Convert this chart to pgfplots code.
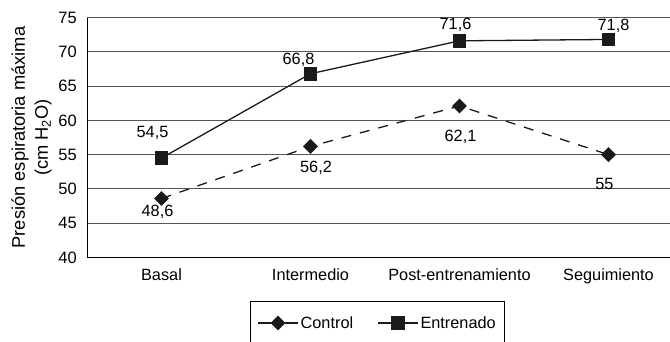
\documentclass[border=0pt]{standalone}
\usepackage{pgfplots}
\pgfplotsset{compat=1.18}
\usepackage{fontspec}
\setmainfont{Liberation Sans}
\definecolor{mk}{HTML}{1A1A1A}
\definecolor{gridc}{HTML}{555555}
\begin{document}
\begin{tikzpicture}
\path[use as bounding box, clip] (0pt,0pt) rectangle (670pt,-341pt);
\begin{axis}[
  at={(87pt,-257.5pt)}, anchor=south west,
  scale only axis, width=596pt, height=240pt,
  xmin=-0.5, xmax=3.5, ymin=40, ymax=75,
  xtick={0,1,2,3},
  xticklabels={Basal,Intermedio,Post-entrenamiento,Seguimiento},
  ytick={40,45,...,75},
  axis lines*=left,
  axis line style={black, line width=0.9pt},
  major tick length=0pt,
  ymajorgrids,
  grid style={gridc, line width=0.9pt},
  /pgf/number format/assume math mode=true,
  yticklabel style={font=\fontsize{16.5}{19}\selectfont, inner xsep=0pt, xshift=-10pt},
  xticklabel style={font=\fontsize{16.3}{19}\selectfont, yshift=-8pt},
  ylabel={Presión espiratoria máxima\\(cm H\textsubscript{2}O)},
  ylabel style={at={(axis description cs:-0.093,0.5)}, anchor=center, align=center, font=\fontsize{18.3}{23}\selectfont},
  legend columns=2,
  legend style={at={(axis description cs:0.4875,-0.183)}, anchor=north, draw=black, line width=0.9pt,
    font=\fontsize{16.3}{19}\selectfont, inner xsep=7pt, inner ysep=12.5pt,
    /tikz/every even column/.append style={column sep=22pt}},
  legend image code/.code={\draw[mark repeat=2,mark phase=2,#1] plot coordinates {(0pt,0pt) (20pt,0pt) (40pt,0pt)};},
]
\addplot[mk, line width=1.3pt, dash pattern=on 10pt off 9pt, mark=square*, mark size=4.6pt,
  mark options={solid, rotate=45, fill=mk},
  legend image post style={dash pattern=on 13pt off 14pt}]
  coordinates {(0,48.6) (1,56.2) (2,62.1) (3,55)};
\addlegendentry{Control}
\addplot[mk, line width=1.3pt, mark=square*, mark size=6.3pt, mark options={solid, fill=mk}]
  coordinates {(0,54.5) (1,66.8) (2,71.6) (3,71.8)};
\addlegendentry{Entrenado}
\begin{scope}[every node/.style={font=\fontsize{16.3}{19}\selectfont, anchor=center}]
\node at (axis cs:0,54.5) [xshift=-9pt, yshift=25pt] {54,5};
\node at (axis cs:1,66.8) [xshift=-12pt, yshift=13.5pt] {66,8};
\node at (axis cs:2,71.6) [xshift=-4pt, yshift=15.5pt] {71,6};
\node at (axis cs:3,71.8) [xshift=5pt, yshift=14pt] {71,8};
\node at (axis cs:0,48.6) [xshift=-4pt, yshift=-13pt] {48,6};
\node at (axis cs:1,56.2) [xshift=5.5pt, yshift=-21pt] {56,2};
\node at (axis cs:2,62.1) [xshift=1pt, yshift=-31pt] {62,1};
\node at (axis cs:3,55) [xshift=-4pt, yshift=-29pt] {55};
\end{scope}
\end{axis}
\end{tikzpicture}
\end{document}
